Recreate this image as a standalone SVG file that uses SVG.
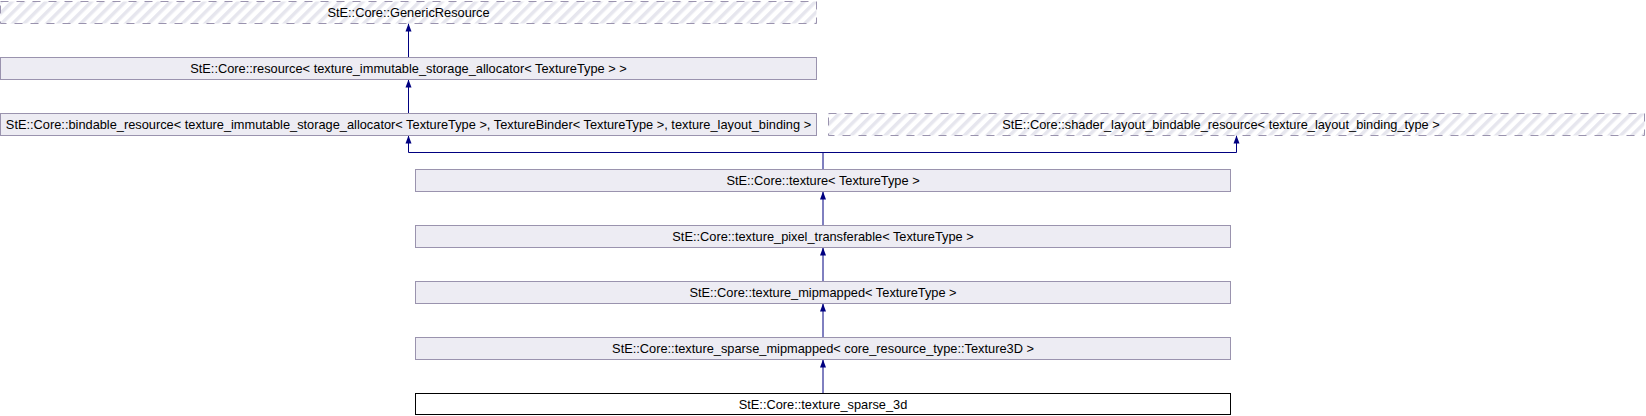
<svg xmlns="http://www.w3.org/2000/svg" width="1646" height="416" viewBox="0 0 1646 416">
<defs>
<pattern id="hatch" width="8" height="8" patternUnits="userSpaceOnUse" patternTransform="rotate(45)">
<rect width="8" height="8" fill="#ffffff"/>
<rect x="0" y="0" width="3.5" height="8" fill="#e6e6ee"/>
</pattern>
<marker id="arr" viewBox="0 0 8 8" refX="8" refY="4" markerWidth="8" markerHeight="8" markerUnits="userSpaceOnUse" orient="auto">
<path d="M0,1 L8,4 L0,7 Z" fill="#000080"/>
</marker>
</defs>
<style>
.box{fill:#edecf3;stroke:#9a93ae;stroke-width:1}
.ext{fill:url(#hatch);stroke:#9a93ae;stroke-width:1;stroke-dasharray:8 8}
.main{fill:#ffffff;stroke:#000000;stroke-width:1}
text{font-family:"Liberation Sans",Arial,sans-serif;font-size:12.8px;fill:#000000;text-anchor:middle}
.edge{fill:none;stroke:#000080;stroke-width:1;marker-end:url(#arr)}
.line{fill:none;stroke:#000080;stroke-width:1}
</style>
<g id="connectors">
<path class="edge" d="M408.5,57 L408.5,23.5"/>
<path class="edge" d="M408.5,113 L408.5,79.5"/>
<path class="line" d="M823,169 L823,152.5"/>
<path class="edge" d="M823,152.5 L408.5,152.5 L408.5,135.5"/>
<path class="edge" d="M823,152.5 L1236.5,152.5 L1236.5,135.5"/>
<path class="edge" d="M823,225 L823,191.5"/>
<path class="edge" d="M823,281 L823,247.5"/>
<path class="edge" d="M823,337 L823,303.5"/>
<path class="edge" d="M823,393 L823,359.5"/>
</g>
<g id="n_generic"><rect class="ext" x="0.5" y="1.5" width="816" height="22"/><text x="408.5" y="17">StE::Core::GenericResource</text></g>
<g id="n_resource"><rect class="box" x="0.5" y="57.5" width="816" height="22"/><text x="408.5" y="73">StE::Core::resource&lt; texture_immutable_storage_allocator&lt; TextureType &gt; &gt;</text></g>
<g id="n_bindable"><rect class="box" x="0.5" y="113.5" width="816" height="22"/><text x="408.5" y="129">StE::Core::bindable_resource&lt; texture_immutable_storage_allocator&lt; TextureType &gt;, TextureBinder&lt; TextureType &gt;, texture_layout_binding &gt;</text></g>
<g id="n_shader"><rect class="ext" x="828.5" y="113.5" width="816" height="22"/><text x="1221" y="129">StE::Core::shader_layout_bindable_resource&lt; texture_layout_binding_type &gt;</text></g>
<g id="n_texture"><rect class="box" x="415.5" y="169.5" width="815" height="22"/><text x="823" y="185">StE::Core::texture&lt; TextureType &gt;</text></g>
<g id="n_pixel"><rect class="box" x="415.5" y="225.5" width="815" height="22"/><text x="823" y="241">StE::Core::texture_pixel_transferable&lt; TextureType &gt;</text></g>
<g id="n_mip"><rect class="box" x="415.5" y="281.5" width="815" height="22"/><text x="823" y="297">StE::Core::texture_mipmapped&lt; TextureType &gt;</text></g>
<g id="n_sparse_mip"><rect class="box" x="415.5" y="337.5" width="815" height="22"/><text x="823" y="353">StE::Core::texture_sparse_mipmapped&lt; core_resource_type::Texture3D &gt;</text></g>
<g id="n_sparse3d"><rect class="main" x="415.5" y="393.5" width="815" height="21"/><text x="823" y="409">StE::Core::texture_sparse_3d</text></g>
</svg>
